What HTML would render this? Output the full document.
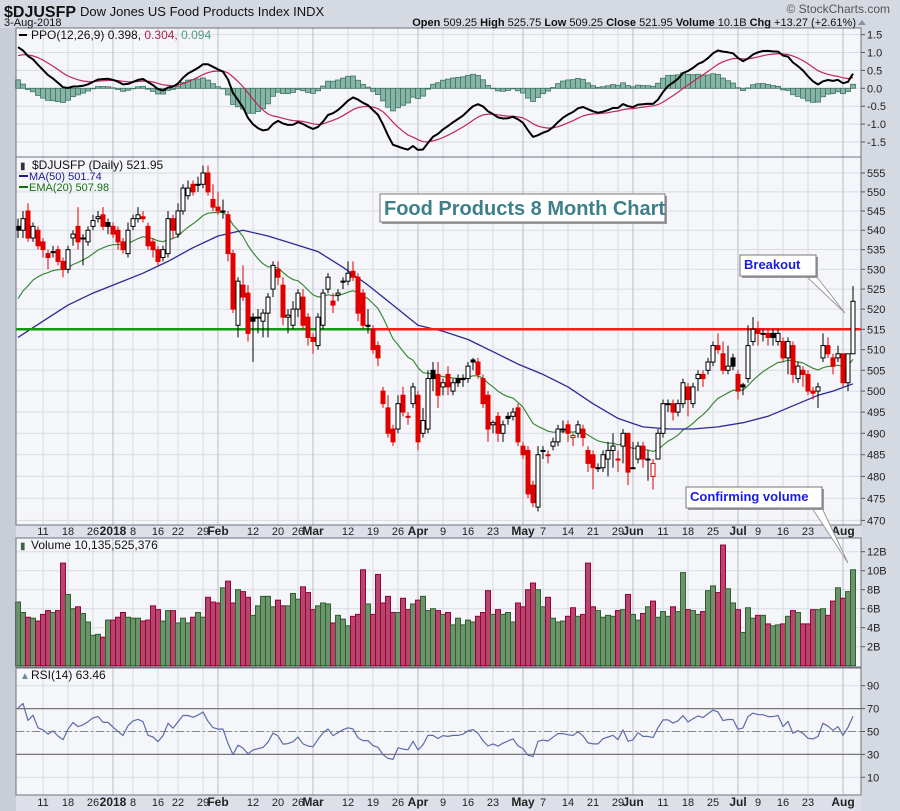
<!DOCTYPE html>
<html><head><meta charset="utf-8">
<style>
html,body{margin:0;padding:0;background:#d5d9e1;}
svg{display:block;font-family:"Liberation Sans",sans-serif;}
</style></head>
<body>
<svg id="chart" width="900" height="811" viewBox="0 0 900 811" xmlns="http://www.w3.org/2000/svg">
<rect x="0" y="0" width="900" height="811" fill="#d5d9e1"/>
<rect x="0" y="28" width="16" height="783" fill="#c9cdd7"/>
<g id="panels"></g>
<g id="grid"></g>
<g id="series"></g>
<g id="frames"></g>
<g id="labels"></g>
<text x="4" y="17" font-size="16" font-weight="bold" fill="#111">$DJUSFP</text>
<text x="80" y="16" font-size="13" fill="#111">Dow Jones US Food Products Index  INDX</text>
<text x="4" y="26" font-size="11" fill="#111">3-Aug-2018</text>
<text x="890" y="13" font-size="12" fill="#555" text-anchor="end">© StockCharts.com</text>
<text x="856" y="26" font-size="11" fill="#111" text-anchor="end"><tspan font-weight="bold">Open</tspan> 509.25  <tspan font-weight="bold">High</tspan> 525.75  <tspan font-weight="bold">Low</tspan> 509.25  <tspan font-weight="bold">Close</tspan> 521.95  <tspan font-weight="bold">Volume</tspan> 10.1B  <tspan font-weight="bold">Chg</tspan> +13.27 (+2.61%)</text>
<polygon points="858,25 866,25 862,20" fill="#8890a0"/>
</svg>
<script>
const opens=[541,540,545,538,540,537,534,534.5,535,532,530,538,541,538,537,541,543,544,542,541,540,537,534,541,543,543.5,541,537,535,533,534,543,539,545,549,552,552,552,555,548,546,545,544,534,516,526,524,518,518,517,519,525,530,526,518,516,520,523,518,513,511,516,525,522,523.5,527,527,529.5,528,524,516,515,511,500,496,491,491,499,494,497,499,490,491,505,504,501,504,500,503,503,503,507.5,507,503,499,492,494,490,494,494,496,487,486,478,473,486,485,487,488,491,492,489,490,491,486,485,482,482,484,486,484,487,490,482,484,487,484,480,484,490,497,497,495,497,501,497,503,504,505,507,511,509,505,508,504,501.5,503,512,515,514,514,514,512,512,508,511,503,505,504,500,500,508,511,508,508,509,502,509];
const closes=[540,543,538,541,536,535,533,534.5,532,530,535,539,537,538,540,542.5,543.5,541,541,539,537,535,540,543,544,543,536,535,532,535,543,540,545,551,551,550,552,555,550,546,545,545,534,520,527,523,514,517,518,519,523,531,528,518,518.5,520,524,516,513,512,518,524,528,521,524,527,529,528,519,516,516,510,508,497,490,488,497,495,494,501,488,493,503,503,499,502,501,502,502,503,506,507,504,497,491,492.5,490,492,493.5,495,488,485,476,474,485,486,485,488,491,491,490,489.5,492,489,483,482,482,485,486,487,484,490,481,482,487,484,484,483,490,497,497,495,497,502,498,501,504,503,507,511,510,505,506,506,500,501,511,515,514,514,513,513,514,508,512,504,506,504,500,499.5,501,511,509,506,509,502,509,521.95];
const highs=[543,545,547,542,541,538,535,536,536,533,536,540,546,539,541,544,545,546,543,542,541,538,542,544,546,545,542,538,536,536,545,544,547,552,553,553,554,557,557,552,550,548,545,535,528,531,526,519,520,520,524,532,532,528,520,522,525,525,519,514,519,525,529,524,525,528,532,532,529,525,520,516,512,501,499,492,499,501,495,502,500,496,505,507,507,503,506,503,504,504,507,508,508,504,500,493,495,493,495,496,497,488,487,479,487,487,486,489,492,493,493,490,493,492,487,486,483,486,488,490,486,491,490,488,488,488,486,484,491,498,498,498,498,503,502,502,505,505,508,512,514,512,511,509,505,502,516,518,517,515,515,515,515,513,513,512,507,506,505,501,502,514,513,509,511,509,509,525.75];
const lows=[538,538,537,537,535,533,530,533,531,528,529,536,535,531,536,540,542,540,539,538,535,534,533,540,542,542,535,533,531,532,533,538,538,544,548,549,550,551,549,545,544,543,532,519,513,522,512,507,514,513,513,523,526,516,514,515,518,515,511,509,510,515,524,519,522,525,526,527,517,515,514,509,506,496,489,487,490,494,492,496,486,489,490,500,496,499,499,499,501,501,502,505,503,496,488,490,488,488,492,493,487,484,475,473,472,484,483,486,487,490,488,487,489,487,481,477,481,481,480,482,481,483,478,482,483,482,479,477,484,489,495,493,494,496,494,496,500,501,504,506,509,504,504,505,498,499,502,511,511,512,511,511,511,507,504,502,502,501,499,498,496,507,508,504,507,501,500,509.25];
const volumesB=[6.7,5.6,5.1,5.0,4.7,5.4,5.8,5.6,5.8,10.8,7.5,6.0,6.2,5.5,4.6,3.2,3.3,3.0,4.8,4.8,5.1,5.6,5.1,5.0,5.0,4.7,4.8,6.3,5.9,4.7,5.8,5.8,4.5,5.0,4.5,5.1,5.6,5.1,7.2,6.7,6.6,8.2,8.9,6.6,8.0,7.8,7.2,5.3,6.3,7.3,7.3,6.2,6.9,6.3,6.3,7.6,7.0,8.3,7.7,5.9,6.3,6.6,6.5,4.5,5.3,4.9,4.2,5.2,5.4,10.1,6.5,5.4,9.6,6.6,7.3,5.6,5.6,7.1,5.9,6.5,6.9,7.3,5.8,6.0,5.8,5.4,5.6,4.3,5.0,4.3,4.8,4.6,5.2,5.6,7.9,5.4,5.9,5.4,5.6,4.6,6.6,6.2,8.0,8.7,8.0,6.2,7.2,5.0,4.6,4.7,5.2,6.1,5.2,5.4,10.8,6.2,5.8,5.1,5.3,5.2,5.8,5.9,7.5,5.4,4.8,5.5,6.2,6.8,5.1,5.7,5.2,6.2,5.7,9.8,5.9,5.8,5.4,5.7,7.9,8.4,7.7,12.7,8.1,6.6,5.9,3.5,6.1,5.0,5.3,5.3,4.4,4.2,4.3,4.4,5.2,5.8,5.6,4.4,4.4,5.9,5.9,6.0,5.3,6.8,8.2,7.1,7.8,10.1];
const ma50Index=[0,5,10,15,20,25,30,35,40,45,50,55,60,65,70,75,80,85,90,95,100,105,110,115,120,125,130,135,140,145,150,155,160,163,167];
const ma50Values=[513,517,521,524,526.5,529,532,535.5,538.5,540,538.5,536.5,534.5,530.5,526,521,516,514.5,512.5,509.5,506.5,504,501,497,493.5,491.5,491,491,491.5,492.5,494,496.5,499,500,501.74];
const priceTicks=[470,475,480,485,490,495,500,505,510,515,520,525,530,535,540,545,550,555];
const ppoTicks=[-1.5,-1.0,-0.5,0.0,0.5,1.0,1.5];
const volTicks=[2,4,6,8,10,12];
const rsiTicks=[10,30,50,70,90];
const holidays=["2017-12-25","2018-01-01","2018-01-15","2018-02-19","2018-03-30","2018-05-28","2018-07-04"];
const breakoutLevel=515;

const NS="http://www.w3.org/2000/svg";
const L=16,R=861;
const P={ppo:[28,157],price:[157,525],vol:[538,667],rsi:[668,795]};
function mk(tag,attrs,parent){const e=document.createElementNS(NS,tag);for(const k in attrs)e.setAttribute(k,attrs[k]);parent.appendChild(e);return e;}
const gP=document.getElementById('panels'),gG=document.getElementById('grid'),gS=document.getElementById('series'),gF=document.getElementById('frames'),gL=document.getElementById('labels');

const dates=[];
{let d=new Date(Date.UTC(2017,11,4));const end=new Date(Date.UTC(2018,7,3));
while(d<=end){const wd=d.getUTCDay();const s=d.toISOString().slice(0,10);if(wd>0&&wd<6&&holidays.indexOf(s)<0)dates.push(new Date(d));d=new Date(d.getTime()+86400000);}}
const N=Math.min(closes.length,opens.length,highs.length,lows.length);
const ND=dates.length;
const SP=5.0;
function xOf(i){return 853-(N-1-i)*SP;}
function dateIdx(j){return j-(ND-N);}
function yPrice(v){return 269.3-2090*Math.log(v/530);}
function yPPO(v){return 88.3-v*35.8;}
function yVol(v){return 665.7-v*9.5;}
function yRSI(v){return 731.5-(v-50)*1.145;}

for(const k in P){const r=mk('rect',{x:L,y:P[k][0],width:R-L,height:P[k][1]-P[k][0],fill:'#f5f6fa'},gP);

}
const strip=mk('rect',{x:L,y:525,width:R-L,height:13,fill:'#dde0e8'},gP);


const strip2=mk('rect',{x:L,y:795,width:R-L,height:16,fill:'#dde0e8'},gP);



function hgrid(ticks,fy,fmt,name){ticks.forEach(t=>{const y=fy(t);
const ln=mk('line',{x1:L,x2:R,y1:y,y2:y,stroke:'#d9dbe3','stroke-width':1},gG);


const tk=mk('line',{x1:R,x2:R+4,y1:y,y2:y,stroke:'#555'},gF);


const tx=mk('text',{x:R+6,y:y+4,'font-size':11,fill:'#222'},gL);tx.textContent=fmt(t);

});}
hgrid(priceTicks,yPrice,t=>String(t),'price');
hgrid(ppoTicks,yPPO,t=>t.toFixed(1),'ppo');
hgrid(volTicks,yVol,t=>t+'B','volume');
hgrid(rsiTicks,yRSI,t=>String(t),'rsi');

const mon=['Jan','Feb','Mar','Apr','May','Jun','Jul','Aug','Sep','Oct','Nov','Dec'];
const cands=[];
for(let j=1;j<ND;j++){const i=dateIdx(j);if(i<0)continue;const d=dates[j],prev=dates[j-1];
const newMonth=prev.getUTCMonth()!==d.getUTCMonth();const newWeek=d.getUTCDay()<prev.getUTCDay()||(d-prev)>3*86400000;
if(newMonth)cands.push({i:i,month:true,label:d.getUTCMonth()===0?'2018':mon[d.getUTCMonth()]});
else if(newWeek)cands.push({i:i,month:false,label:String(d.getUTCDate())});}
const monthIdx=cands.filter(c=>c.month).map(c=>c.i);
cands.forEach(c=>{const x=xOf(c.i);const bold=c.month;
if(!bold&&monthIdx.some(m=>(c.i-m>0&&c.i-m<4)||(m-c.i>0&&m-c.i<3)))return;
for(const k in P){const v=mk('line',{x1:x,x2:x,y1:P[k][0],y2:P[k][1],stroke:bold?'#b9bcc8':'#d9dbe3','stroke-width':1},gG);

}
[535,806].forEach(yy=>{const t=mk('text',{x:x,y:yy,'font-size':bold?12:11,'font-weight':bold?'bold':'normal',fill:'#222','text-anchor':'middle'},gL);t.textContent=c.label;

});});

const ema20=[];{let e=522.6;for(let i=0;i<N;i++){e=i===0?e:e+(closes[i]-e)*2/21;ema20.push(e);}}
const ppo=[],sig=[];{let e12=544,e26=537,s=0.85;for(let i=0;i<N;i++){e12+=(closes[i]-e12)*2/13;e26+=(closes[i]-e26)*2/27;const p=(e12-e26)/e26*100;s+=(p-s)*2/10;ppo.push(p);sig.push(s);}}
const rsi=[];{let ag=1.0,al=0.42;for(let i=0;i<N;i++){if(i>0){const ch=closes[i]-closes[i-1];ag=(ag*13+Math.max(ch,0))/14;al=(al*13+Math.max(-ch,0))/14;}rsi.push(100-100/(1+ag/al));}}

function poly(vals,fy,stroke,w,name,idx){const pts=vals.map((v,k)=>xOf(idx?idx[k]:k).toFixed(1)+','+fy(v).toFixed(1)).join(' ');
const p=mk('polyline',{points:pts,fill:'none',stroke:stroke,'stroke-width':w,'stroke-linejoin':'round'},gS);

return p;}

for(let i=0;i<N;i++){const h=ppo[i]-sig[i];const y0=yPPO(0),y1=yPPO(h);
const b=mk('rect',{x:xOf(i)-2.5,y:Math.min(y0,y1),width:5,height:Math.max(0.5,Math.abs(y1-y0)),fill:'#86b5a6',stroke:'#3f7464','stroke-width':0.8},gS);

}
poly(sig,yPPO,'#c0245a',1.2,'ppo-signal-line');
poly(ppo,yPPO,'#000',2,'ppo-line');

poly(ema20,yPrice,'#3a8a3a',1.2,'ema20-line');
poly(ma50Values,yPrice,'#2a2a96',1.3,'ma50-line',ma50Index);
{const y=yPrice(breakoutLevel);
const g=mk('line',{x1:L,x2:372,y1:y,y2:y,stroke:'#119911','stroke-width':2.5},gS);


const r=mk('line',{x1:372,x2:R,y1:y,y2:y,stroke:'#ff1a1a','stroke-width':2.5},gS);

}
for(let i=0;i<N;i++){const x=xOf(i),o=opens[i],c=closes[i];const up=i===0?true:c>=closes[i-1];const col=up?'#000':'#e00000';
const wk=mk('line',{x1:x,x2:x,y1:yPrice(highs[i]),y2:yPrice(lows[i]),stroke:col,'stroke-width':1},gS);


const yt=yPrice(Math.max(o,c)),yb=yPrice(Math.min(o,c));const hollow=c>o;
const bd=mk('rect',{x:x-2,y:yt,width:4,height:Math.max(1,yb-yt),fill:hollow?'#fff':col,stroke:col,'stroke-width':1},gS);

}

{const NV=volumesB.length;for(let k=0;k<NV;k++){const i=N-NV+k;const x=xOf(i);let up=true;if(i>0&&i<N)up=closes[i]>=closes[i-1];
const y=yVol(volumesB[k]);const b=mk('rect',{x:x-2.5,y:y,width:5,height:665.7-y,fill:up?'#6b946b':'#b8456c',stroke:up?'#2f5f2f':'#96003a','stroke-width':1},gS);

}}

[70,30].forEach(v=>{const l=mk('line',{x1:L,x2:R,y1:yRSI(v),y2:yRSI(v),stroke:'#777','stroke-width':1.2},gS);

});
{const l=mk('line',{x1:L,x2:R,y1:yRSI(50),y2:yRSI(50),stroke:'#888','stroke-width':1,'stroke-dasharray':'8,3,2,3'},gS);

}
poly(rsi,yRSI,'#5c6ca8',1.2,'rsi-line');

for(const k in P){const r=mk('rect',{x:L,y:P[k][0],width:R-L,height:P[k][1]-P[k][0],fill:'none',stroke:'#6e7080','stroke-width':1},gF);

}

function txt(x,y,s,fill,size,name,weight){const t=mk('text',{x:x,y:y,'font-size':size||12,fill:fill||'#111','font-weight':weight||'normal'},gL);t.textContent=s;

return t;}
{const l=mk('line',{x1:19,x2:27,y1:35,y2:35,stroke:'#000','stroke-width':2},gL);

}
{const t=txt(31,39,'','#111',12,'ppo-legend');
const a=document.createElementNS(NS,'tspan');a.textContent='PPO(12,26,9) 0.398, ';t.appendChild(a);
const b=document.createElementNS(NS,'tspan');b.setAttribute('fill','#b0204a');b.textContent='0.304, ';t.appendChild(b);
const c=document.createElementNS(NS,'tspan');c.setAttribute('fill','#4e9a86');c.textContent='0.094';t.appendChild(c);}
txt(32,169,'$DJUSFP (Daily) 521.95','#111',12,'price-legend');
txt(20,169,'▮','#333',10,'price-legend-icon');
{const l=mk('line',{x1:19,x2:28,y1:176,y2:176,stroke:'#1a1a90','stroke-width':2},gL);

}
txt(29,180,'MA(50) 501.74','#1a1a90',11,'ma50-legend');
{const l=mk('line',{x1:19,x2:28,y1:187,y2:187,stroke:'#137013','stroke-width':2},gL);

}
txt(29,191,'EMA(20) 507.98','#137013',11,'ema20-legend');
txt(20,549,'▮','#3a6a3a',10,'volume-legend-icon');
txt(31,549,'Volume 10,135,525,376','#111',12,'volume-legend');
txt(20,679,'▲','#6a8aa0',10,'rsi-legend-icon');
txt(31,679,'RSI(14) 63.46','#111',12,'rsi-legend');

function box(x,y,w,h,s,color,size,name){const g=mk('g',{},gL);
mk('rect',{x:x+2,y:y+2,width:w,height:h,fill:'#9a9aa0'},g);
mk('rect',{x:x,y:y,width:w,height:h,fill:'#fff',stroke:'#777','stroke-width':1},g);
const t=mk('text',{x:x+4,y:y+h-7,'font-size':size,'font-weight':'bold',fill:color},g);t.textContent=s;return g;}
box(380,194,285,28,'Food Products 8 Month Chart','#3f7f8c',20,'chart-title-annotation');
{const p=mk('polygon',{points:'806,276 816,276 845,313',fill:'#fff',stroke:'#999','stroke-width':1},gL);

}
box(740,255,76,21,'Breakout','#1a1aee',13,'breakout-annotation');
{const p=mk('polygon',{points:'812,508 822,508 848,563',fill:'#fff',stroke:'#999','stroke-width':1},gL);

}
box(686,487,136,21,'Confirming volume','#1a1aee',13,'confirming-volume-annotation');
</script>
</body></html>
